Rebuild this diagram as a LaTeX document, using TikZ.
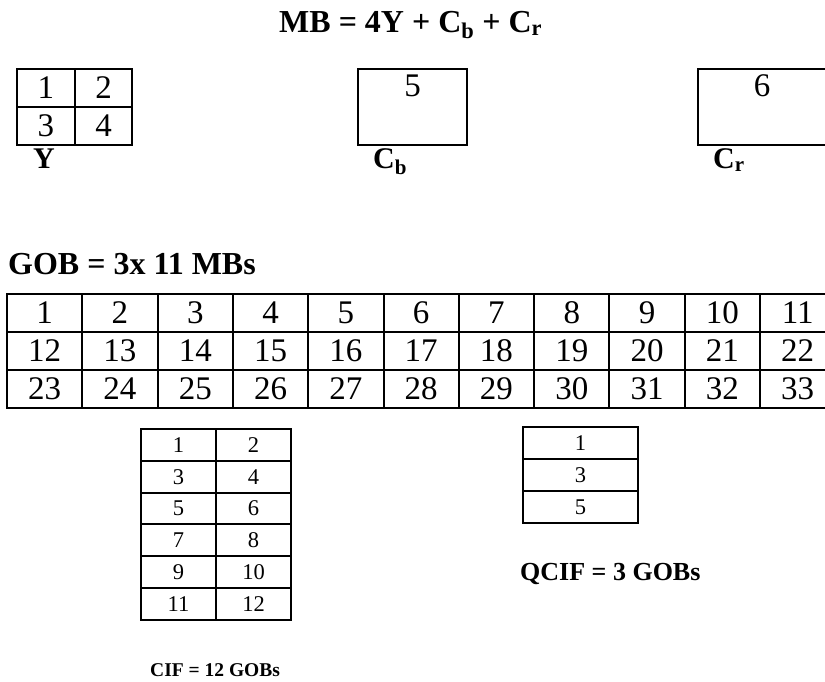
\documentclass[tikz,border=0pt]{standalone}
\usepackage{fontspec}
\setmainfont{Liberation Serif}
\begin{document}
\begin{tikzpicture}[x=1pt,y=-1pt,
  cell/.style={draw,line width=2pt,inner sep=0pt,outer sep=0pt},
  bigdigit/.style={font=\fontsize{33}{37}\selectfont},
  smalldigit/.style={font=\fontsize{22.5}{26}\selectfont},
  heading/.style={font=\fontsize{32}{36}\selectfont\bfseries,inner sep=0pt,anchor=base west},
  chroma/.style={font=\fontsize{30}{34}\selectfont\bfseries,inner sep=0pt,anchor=base west}]
\useasboundingbox (0,0) rectangle (825,681);
\clip (0,0) rectangle (825,681);

% macroblock heading
\node[heading] (mbtitle) at (279,32) {MB = 4Y + C\textsubscript{b} + C\textsubscript{r}};

% luminance blocks
\foreach \n/\cx/\cy/\w in {1/46/88/58, 2/103.5/88/57, 3/46/126/58, 4/103.5/126/57}
  \node[cell,bigdigit,minimum width=\w,minimum height=38] (y\n) at (\cx,\cy) {\n};
\node[chroma] (ylabel) at (33,168) {Y};

% chrominance blocks
\node[cell,minimum width=109,minimum height=76] (cb) at (412.5,107) {};
\node[bigdigit,inner sep=0pt] (cbnum) at (412.5,86) {5};
\node[chroma] (cblabel) at (373,168) {C\textsubscript{b}};

\node[cell,minimum width=128,minimum height=76] (cr) at (762,107) {};
\node[bigdigit,inner sep=0pt] (crnum) at (762,86) {6};
\node[chroma] (crlabel) at (713,168) {C\textsubscript{r}};

% group of blocks
\node[heading] (gobtitle) at (8,274) {GOB = 3x 11 MBs};
\foreach \r in {0,1,2}
  \foreach \c in {1,...,11} {
    \pgfmathtruncatemacro{\num}{\r*11+\c}
    \node[cell,bigdigit,minimum width=75.3,minimum height=38]
      (gob\num) at ({7+75.3*(\c-0.5)},{294+38*(\r+0.5)}) {\num};
  }

% CIF picture: 12 GOBs
\foreach \r in {0,...,5}
  \foreach \c in {1,2} {
    \pgfmathtruncatemacro{\num}{\r*2+\c}
    \node[cell,smalldigit,minimum width=75,minimum height=31.8]
      (cif\num) at ({141+75*(\c-0.5)},{429+31.8*(\r+0.5)}) {\num};
  }
\node[font=\fontsize{19.5}{23}\selectfont\bfseries,inner sep=0pt,anchor=base west]
  (ciflabel) at (150,676) {CIF = 12 GOBs};

% QCIF picture: 3 GOBs
\foreach \n [count=\r from 0] in {1,3,5}
  \node[cell,smalldigit,minimum width=115,minimum height=32]
    (qcif\n) at (580.5,{427+32*(\r+0.5)}) {\n};
\node[font=\fontsize{26}{30}\selectfont\bfseries,inner sep=0pt,anchor=base west]
  (qciflabel) at (520,580) {QCIF = 3 GOBs};
\end{tikzpicture}
\end{document}
